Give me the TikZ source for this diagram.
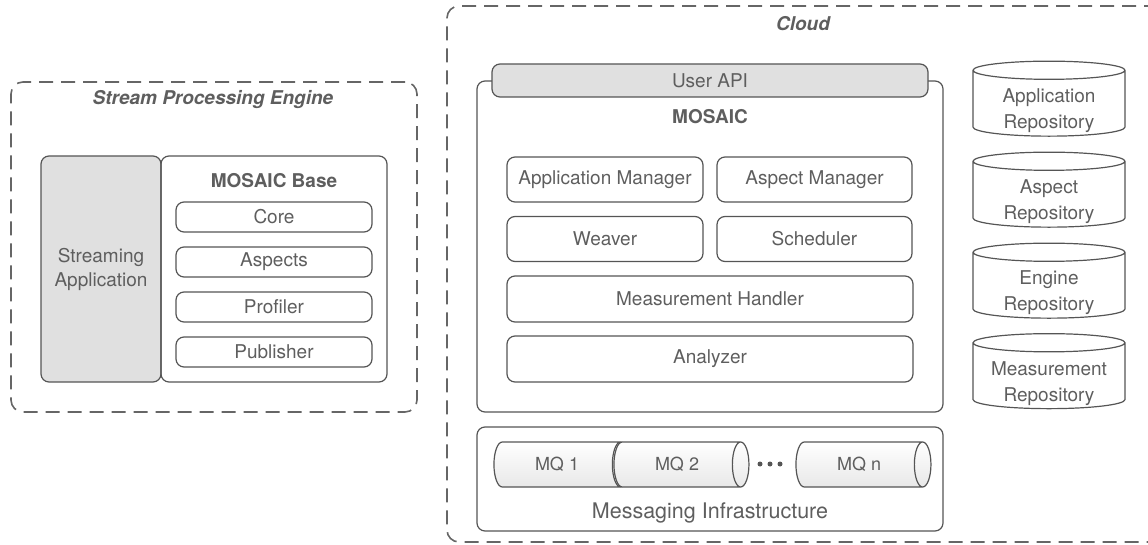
\documentclass[tikz,border=0pt]{standalone}
\usepackage{fontspec}
\setmainfont{TeX Gyre Heros}
\usetikzlibrary{shapes.geometric}
\definecolor{ln}{HTML}{555555}
\definecolor{tx}{HTML}{5E5E5E}
\definecolor{gf}{HTML}{E0E0E0}
\begin{document}
\begin{tikzpicture}[x=1pt, y=-1pt,
  every node/.style={text=tx, font=\fontsize{19}{24}\selectfont},
  blk/.style={rectangle, draw=ln, line width=1.2pt, rounded corners=8pt, inner sep=0pt},
  grp/.style={rectangle, draw=ln!90, line width=1.6pt, dash pattern=on 14pt off 8pt, rounded corners=12pt, inner sep=0pt},
  ttl/.style={font=\fontsize{19}{24}\selectfont\bfseries\itshape},
  mq/.style={cylinder, draw=ln, line width=1.2pt, aspect=1.15, top color=white, bottom color=gray!18, minimum width=45pt, minimum height=135pt, inner sep=0pt, font=\fontsize{18}{22}\selectfont},
  repo/.style={cylinder, shape border rotate=90, draw=ln, line width=1.2pt, aspect=0.2, minimum width=152pt, minimum height=75pt, inner sep=0pt,
    label={[align=center, yshift=-7.5pt, font=\fontsize{19}{26}\selectfont]center:#1}}]
\clip (0,0) rectangle (1148,545);
% stream processing engine
\node[grp, minimum width=406pt, minimum height=330pt] (spe) at (214,247){};
\node[ttl] (spet) at (213,100){Stream Processing Engine};
\node[blk, fill=gf, minimum width=120pt, minimum height=226pt, align=center] (sapp) at (101,269){Streaming\\Application};
\node[blk, minimum width=226pt, minimum height=226pt] (base) at (274,269){};
\node[font=\fontsize{19}{24}\selectfont\bfseries] (baset) at (274,181){MOSAIC Base};
\node[blk, minimum width=196pt, minimum height=30pt] (core) at (274,217){Core};
\node[blk, minimum width=196pt, minimum height=30pt] (asp) at (274,262){Aspects};
\node[blk, minimum width=196pt, minimum height=30pt] (prof) at (274,307){Profiler};
\node[blk, minimum width=196pt, minimum height=30pt] (pub) at (274,352){Publisher};

% cloud
\node[grp, minimum width=723pt, minimum height=536pt] (cloud) at (808.5,274){};
\node[ttl] (cloudt) at (803,24){Cloud};
\node[blk, minimum width=466pt, minimum height=331pt] (mosaic) at (710,246.5){};
\node[blk, fill=gf, minimum width=436pt, minimum height=33pt] (uapi) at (710,80.5){User API};
\node[font=\fontsize{19}{24}\selectfont\bfseries] (mosaict) at (710,117){MOSAIC};
\node[blk, minimum width=196pt, minimum height=45pt] (amgr) at (605,179.5){Application Manager};
\node[blk, minimum width=195pt, minimum height=45pt] (smgr) at (814.5,179.5){Aspect Manager};
\node[blk, minimum width=196pt, minimum height=45pt] (weav) at (605,239){Weaver};
\node[blk, minimum width=195pt, minimum height=45pt] (sched) at (814.5,239){Scheduler};
\node[blk, minimum width=406pt, minimum height=46pt] (mh) at (710,299){Measurement Handler};
\node[blk, minimum width=406pt, minimum height=46pt] (an) at (710,359){Analyzer};

% messaging
\node[blk, minimum width=466pt, minimum height=104pt] (mi) at (710,479){};
\node[font=\fontsize{21.5}{26}\selectfont] (mit) at (710,513){Messaging Infrastructure};
\node[mq] (mq1) at (557,464.5){MQ 1};
\node[mq] (mq2) at (677,464.5){MQ 2};
\node[mq] (mqn) at (859,464.5){MQ n};
\foreach \i in {760,770,780}
  \node[circle, fill=ln, inner sep=0pt, minimum size=5pt] (dot\i) at (\i,464){};

% repositories
\node[repo={Application\\Repository}] (rep1) at (1049,103.5){\phantom{Repository}};
\node[repo={Aspect\\Repository}] (rep2) at (1049,194.5){\phantom{Repository}};
\node[repo={Engine\\Repository}] (rep3) at (1049,285.5){\phantom{Repository}};
\node[repo={Measurement\\Repository}] (rep4) at (1049,376){\phantom{Repository}};
\end{tikzpicture}
\end{document}
